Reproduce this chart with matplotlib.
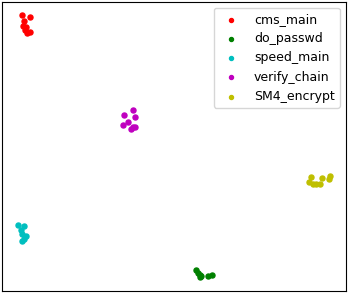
import numpy as np
import matplotlib
matplotlib.use("Agg")
import matplotlib.pyplot as plt

# embedding coordinates
labels = ["cms_main", "do_passwd", "speed_main", "verify_chain", "SM4_encrypt"]
colors = ["r", "g", "c", "m", "y"]

cms_x = [22.5, 30, 24.5, 23.5, 26.5, 25.5, 27.5, 30]
cms_y = [280, 278.5, 274, 269, 268.5, 265, 262.5, 263]

passwd_x = [196, 198.5, 200, 200.5, 208.5, 212.5, 201.5]
passwd_y = [25, 21.5, 17.5, 20, 18.5, 19.5, 19]

speed_x = [18.5, 24, 21.5, 22.5, 26.5, 22.5, 24]
speed_y = [70, 69, 65, 61.5, 59, 54.5, 56]

verify_x = [133.5, 124, 135.5, 128.5, 123.5, 133.5, 131.5, 135.5]
verify_y = [185, 180, 178.5, 173.5, 170, 168, 166, 168.5]

sm4_x = [311.5, 309.5, 313.5, 316.5, 320, 322.5, 330.5, 329.5]
sm4_y = [118.5, 113.5, 111, 111, 111, 117, 119, 116.5]

xs = [cms_x, passwd_x, speed_x, verify_x, sm4_x]
ys = [cms_y, passwd_y, speed_y, verify_y, sm4_y]

fig = plt.figure(figsize=(3.49, 2.95), dpi=100)
ax = fig.add_axes([0.007, 0.0136, 0.984, 0.981])

for x, y, c, lab in zip(xs, ys, colors, labels):
    ax.scatter(x, y, s=13, c=c, label=lab)

ax.set_xlim(2.5, 346)
ax.set_ylim(4, 293.5)
ax.set_xticks([])
ax.set_yticks([])
ax.legend(loc="upper right", fontsize=9, markerscale=0.8)

fig.savefig("out.png", dpi=100)
